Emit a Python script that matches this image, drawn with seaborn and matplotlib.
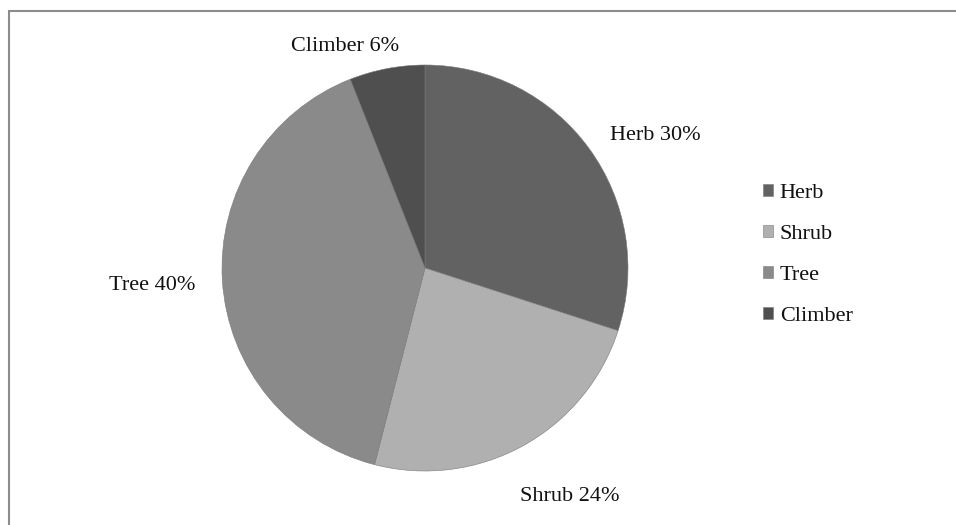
import matplotlib
matplotlib.use("Agg")
import matplotlib.pyplot as plt
import matplotlib.patches as mpatches
import seaborn as sns

# Growth-form composition of the recorded species
categories = ["Herb", "Shrub", "Tree", "Climber"]
shares = [30, 24, 40, 6]
colors = ["#626262", "#b0b0b0", "#8a8a8a", "#4f4f4f"]

sns.set_theme(style="white")
plt.rcParams["font.family"] = ["Liberation Serif", "DejaVu Serif"]

W, H = 956, 525
fig = plt.figure(figsize=(W / 100, H / 100), dpi=100)
fig.patch.set_facecolor("white")

# pie area: radius 1 maps to ~203 px, centre at (425, 268) px from top-left
R = 203.0
cx, cy = 425.0, 268.0
left_px, right_px = 5.0, 845.0
bot_px, top_px = 7.0, 507.0
ax = fig.add_axes([left_px / W, bot_px / H, (right_px - left_px) / W, (top_px - bot_px) / H])

wedges, _ = ax.pie(
    shares,
    colors=colors,
    startangle=90,
    counterclock=False,
    radius=1.0,
    center=(0, 0),
    frame=True,
    wedgeprops=dict(edgecolor="#7a7a7a", linewidth=0.4),
)
ax.set_xlim((left_px - cx) / R, (right_px - cx) / R)
ax.set_ylim((bot_px - (H - cy)) / R, (top_px - (H - cy)) / R)
ax.set_aspect("auto")
ax.set_axis_off()

# data labels placed around the rim
label_pos = {
    "Herb": (1.133, 0.655),
    "Shrub": (0.714, -1.128),
    "Tree": (-1.345, -0.084),
    "Climber": (-0.394, 1.089),
}
for cat, val in zip(categories, shares):
    x, y = label_pos[cat]
    ax.text(x, y, f"{cat} {val}%", ha="center", va="center", fontsize=16, color="#111111")

leg = fig.legend(
    wedges,
    categories,
    loc="center left",
    bbox_to_anchor=(752 / W, 1 - 255 / H),
    frameon=False,
    fontsize=16,
    handlelength=0.45,
    handleheight=0.45,
    handletextpad=0.3,
    labelspacing=1.0,
    borderpad=0,
)
for t in leg.get_texts():
    t.set_color("#111111")

# outer chart-area border (open at right/bottom edge of the image)
fig.patches.append(
    mpatches.Rectangle(
        (8.5 / W, -0.2), 1.2, 1.2 - 10.5 / H,
        transform=fig.transFigure, fill=False, edgecolor="#8c8c8c", linewidth=1.5,
    )
)

fig.savefig("out.png", dpi=100, facecolor="white")
